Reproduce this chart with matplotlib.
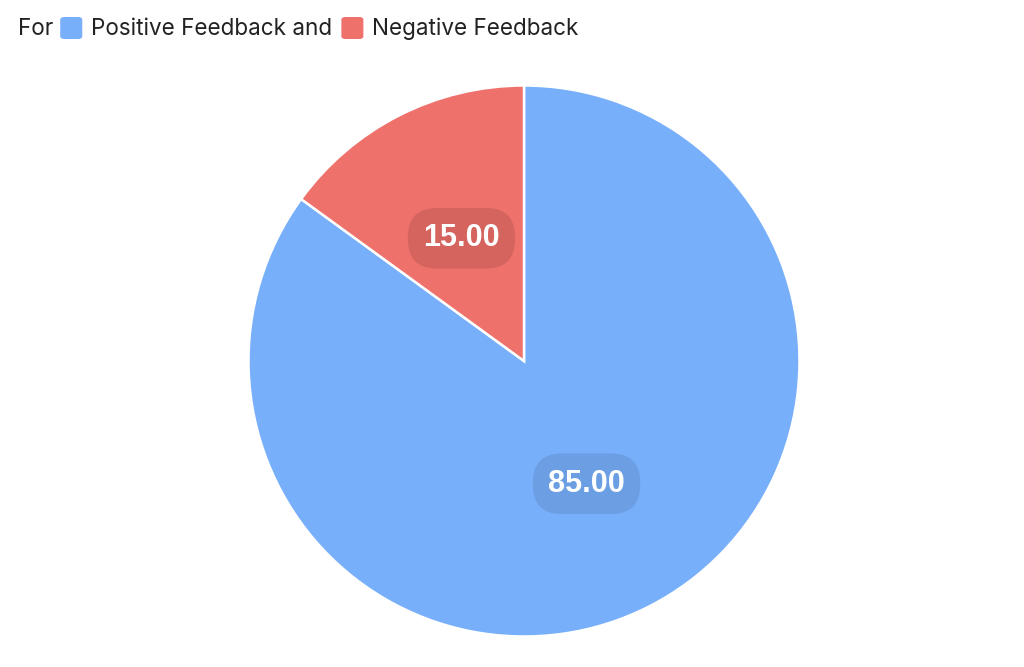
import matplotlib
matplotlib.use("Agg")
import matplotlib.pyplot as plt
from matplotlib.patches import FancyBboxPatch

labels = ["Positive Feedback", "Negative Feedback"]
values = [85.00, 15.00]
colors = ["#78AFFA", "#EE716B"]
box_colors = ["#6B9EE2", "#D5645F"]

W, H = 1024, 667
fig = plt.figure(figsize=(W / 100, H / 100), dpi=100)

# pie axes: centre (524, 361) px from top-left, radius ~275 px
cx, cy, r = 524, 361, 275.5
ax = fig.add_axes([(cx - r) / W, (H - cy - r) / H, 2 * r / W, 2 * r / H])
wedges, texts, autotexts = ax.pie(
    values, colors=colors, startangle=90, counterclock=False,
    wedgeprops=dict(edgecolor="white", linewidth=1.8),
    autopct=lambda p: f"{p * sum(values) / 100:.2f}", pctdistance=0.5,
)
for w in wedges:
    w.set_clip_on(False)
for t, bc in zip(autotexts, box_colors):
    t.set_color("white")
    t.set_fontsize(22)
    t.set_fontweight("bold")
    t.set_fontfamily("Liberation Sans")
    t.set_bbox(dict(boxstyle="round,pad=0.5,rounding_size=0.95", facecolor=bc, edgecolor="none"))
ax.set_xlim(-1, 1)
ax.set_ylim(-1, 1)
ax.set_aspect("equal")
ax.axis("off")

# legend line at the top: "For [■] Positive Feedback and [■] Negative Feedback"
renderer = fig.canvas.get_renderer()
ty = (H - 29) / H
x = 18
font = dict(family="Inter", size=16.2, color="#222222", va="center")

def put_text(s, x):
    t = fig.text(x / W, ty, s, **font)
    bb = t.get_window_extent(renderer)
    return x + bb.width

def put_square(x, color):
    sq = 22
    fig.patches.append(FancyBboxPatch(
        (x / W, (H - 39) / H), sq / W, sq / H,
        boxstyle="round,pad=0,rounding_size=0.004",
        transform=fig.transFigure, facecolor=color, edgecolor="none"))
    return x + sq

x = put_text("For", x)
x = put_square(x + 7, colors[0])
x = put_text(labels[0] + " and", x + 9)
x = put_square(x + 9, colors[1])
put_text(labels[1], x + 9)

fig.savefig("out.png", dpi=100)
